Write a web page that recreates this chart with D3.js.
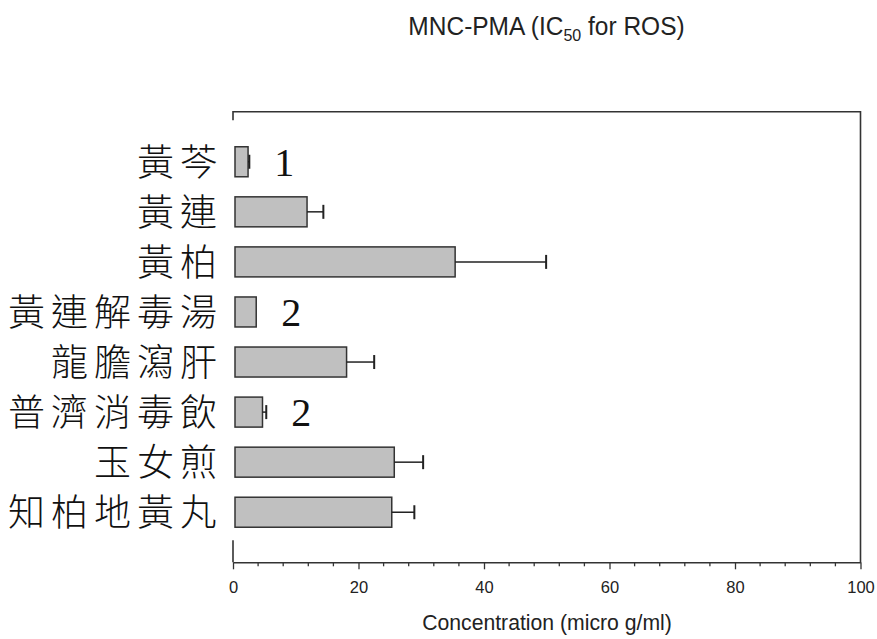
<!DOCTYPE html>
<html>
<head>
<meta charset="utf-8">
<script src="https://cdn.jsdelivr.net/npm/d3@7"></script>
<style>
  html, body { margin: 0; padding: 0; background: #fff; }
  svg { display: block; }
</style>
</head>
<body>
<script>
// Herbal formulas and their IC50 values for ROS (MNC-PMA), micro g/ml
const categories = ["黃芩", "黃連", "黃柏", "黃連解毒湯", "龍膽瀉肝", "普濟消毒飲", "玉女煎", "知柏地黃丸"];
const ic50 = [2.4, 11.8, 35.4, 3.7, 18.1, 4.7, 25.7, 25.3];
const errors = [0.2, 2.6, 14.5, 0, 4.4, 0.6, 4.6, 3.6];
const marks = ["1", "", "", "2", "", "2", "", ""];
const xTicks = [0, 20, 40, 60, 80, 100];
const xMinorStep = 4;

const W = 877, H = 639;
const plotLeft = 233, plotRight = 860.5, plotTop = 111.7, plotBottom = 562.3;

const svg = d3.select("body").append("svg")
  .attr("width", W).attr("height", H);

const x = d3.scaleLinear().domain([0, 100]).range([plotLeft, plotRight]);
// one empty slot above the first bar and below the last
const y = d3.scaleLinear().domain([0, categories.length + 1]).range([plotTop, plotBottom]);
const barH = 30;
const axisColor = "#333";
const sans = "Liberation Sans, Arial, sans-serif";

// frame: top and right edges, short stubs on the left
svg.append("path")
  .attr("d", `M${plotLeft},${plotTop + 8.5}V${plotTop}H${plotRight}V${plotBottom}`)
  .attr("fill", "none").attr("stroke", axisColor).attr("stroke-width", 1.6);
svg.append("line")
  .attr("x1", plotLeft).attr("x2", plotLeft).attr("y1", plotBottom - 22).attr("y2", plotBottom)
  .attr("stroke", axisColor).attr("stroke-width", 1.6);

// minor ticks
const minor = d3.range(0, 100 + 1e-9, xMinorStep).filter(v => !xTicks.includes(v));
svg.append("g").selectAll("line").data(minor).join("line")
  .attr("x1", d => x(d)).attr("x2", d => x(d))
  .attr("y1", plotBottom).attr("y2", plotBottom + 4)
  .attr("stroke", axisColor).attr("stroke-width", 1.3);

// bottom axis with major ticks
const xAxis = svg.append("g")
  .attr("transform", `translate(0,${plotBottom})`)
  .call(d3.axisBottom(x).tickValues(xTicks).tickSize(7).tickPadding(12).tickSizeOuter(0))
  .attr("font-family", sans)
  .attr("font-size", 16.5);
xAxis.select(".domain").attr("stroke", axisColor).attr("stroke-width", 1.6);
xAxis.selectAll(".tick line").attr("stroke", axisColor).attr("stroke-width", 1.3);
xAxis.selectAll(".tick text")
  .style("font-size", "16.5px")
  .attr("fill", "#222");

// bars
const rows = categories.map((c, i) => ({ c, v: ic50[i], e: errors[i], m: marks[i], i }));
const bars = svg.append("g");
bars.selectAll("rect").data(rows).join("rect")
  .attr("x", x(0) + 2)
  .attr("y", d => y(d.i + 1) - barH / 2)
  .attr("width", d => x(d.v) - x(0) - 2)
  .attr("height", barH)
  .attr("fill", "#c0c0c0")
  .attr("stroke", "#333").attr("stroke-width", 1.5);

// error bars
const eb = svg.append("g").attr("stroke", "#222").attr("stroke-width", 1.5);
rows.filter(d => d.e > 0).forEach(d => {
  const cy = y(d.i + 1);
  eb.append("line").attr("x1", x(d.v)).attr("x2", x(d.v + d.e)).attr("y1", cy).attr("y2", cy);
  eb.append("line").attr("x1", x(d.v + d.e)).attr("x2", x(d.v + d.e))
    .attr("y1", cy - 7).attr("y2", cy + 7).attr("stroke-width", 2);
});

// group annotations beside the bars
svg.append("g").selectAll("text").data(rows.filter(d => d.m)).join("text")
  .attr("x", d => x(d.v + d.e) + 25)
  .attr("y", d => y(d.i + 1) + 14)
  .attr("font-family", "Liberation Serif, Times New Roman, serif")
  .attr("font-size", 40).attr("fill", "#111")
  .text(d => d.m);

// category labels
const ls = 6;
svg.append("g").selectAll("text").data(rows).join("text")
  .attr("x", 217 + ls)
  .attr("y", d => y(d.i + 1) - 2)
  .attr("text-anchor", "end")
  .attr("dominant-baseline", "central")
  .attr("font-family", "Noto Sans CJK TC, Noto Sans CJK SC, sans-serif")
  .attr("font-weight", 300)
  .attr("font-size", 37)
  .attr("letter-spacing", ls)
  .attr("fill", "#111")
  .text(d => d.c);

// title (slightly tall lettering)
const title = svg.append("text")
  .attr("transform", "translate(546.5,35) scale(1,1.08)")
  .attr("text-anchor", "middle")
  .attr("font-family", sans)
  .attr("font-size", 24.5).attr("fill", "#222");
title.append("tspan").text("MNC-PMA (IC");
title.append("tspan").attr("font-size", 16).attr("dy", 6).text("50");
title.append("tspan").attr("dy", -6).text(" for ROS)");

// x axis title
svg.append("text")
  .attr("transform", "translate(547,630) scale(1,1.03)")
  .attr("text-anchor", "middle")
  .attr("font-family", sans)
  .attr("font-size", 21.2).attr("fill", "#222")
  .text("Concentration (micro g/ml)");
</script>
</body>
</html>
